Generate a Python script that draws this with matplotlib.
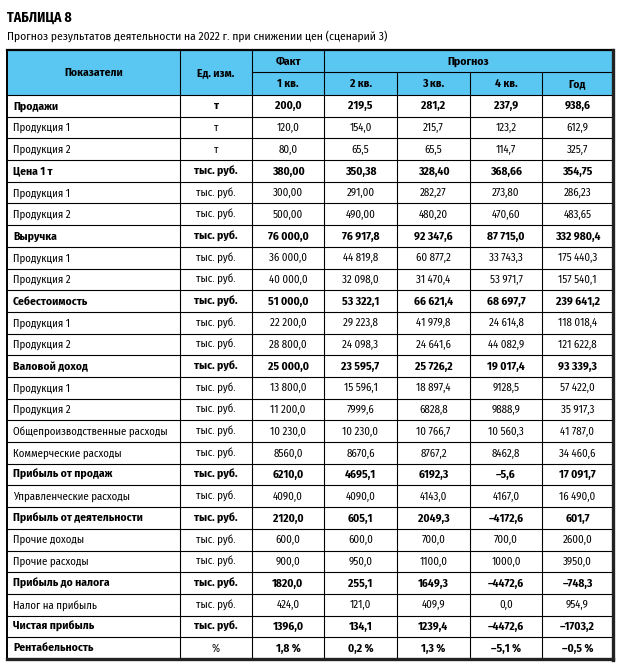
import matplotlib.pyplot as plt
from matplotlib.patches import Rectangle

plt.rcParams['font.family'] = ['Fira Sans Condensed', 'Liberation Sans Narrow', 'Liberation Sans', 'DejaVu Sans']

title = 'ТАБЛИЦА 8'
subtitle = 'Прогноз результатов деятельности на 2022 г. при снижении цен (сценарий 3)'

head_top = ['Показатели', 'Ед. изм.', 'Факт', 'Прогноз']
head_sub = ['1 кв.', '2 кв.', '3 кв.', '4 кв.', 'Год']

labels = ['Продажи', 'Продукция 1', 'Продукция 2', 'Цена 1 т', 'Продукция 1', 'Продукция 2',
          'Выручка', 'Продукция 1', 'Продукция 2', 'Себестоимость', 'Продукция 1', 'Продукция 2',
          'Валовой доход', 'Продукция 1', 'Продукция 2', 'Общепроизводственные расходы',
          'Коммерческие расходы', 'Прибыль от продаж', 'Управленческие расходы',
          'Прибыль от деятельности', 'Прочие доходы', 'Прочие расходы', 'Прибыль до налога',
          'Налог на прибыль', 'Чистая прибыль', 'Рентабельность']
units = ['т', 'т', 'т'] + ['тыс. руб.'] * 22 + ['%']
bold_rows = [0, 3, 6, 9, 12, 17, 19, 22, 24, 25]

q1 = ['200,0', '120,0', '80,0', '380,00', '300,00', '500,00', '76 000,0', '36 000,0', '40 000,0',
      '51 000,0', '22 200,0', '28 800,0', '25 000,0', '13 800,0', '11 200,0', '10 230,0', '8560,0',
      '6210,0', '4090,0', '2120,0', '600,0', '900,0', '1820,0', '424,0', '1396,0', '1,8 %']
q2 = ['219,5', '154,0', '65,5', '350,38', '291,00', '490,00', '76 917,8', '44 819,8', '32 098,0',
      '53 322,1', '29 223,8', '24 098,3', '23 595,7', '15 596,1', '7999,6', '10 230,0', '8670,6',
      '4695,1', '4090,0', '605,1', '600,0', '950,0', '255,1', '121,0', '134,1', '0,2 %']
q3 = ['281,2', '215,7', '65,5', '328,40', '282,27', '480,20', '92 347,6', '60 877,2', '31 470,4',
      '66 621,4', '41 979,8', '24 641,6', '25 726,2', '18 897,4', '6828,8', '10 766,7', '8767,2',
      '6192,3', '4143,0', '2049,3', '700,0', '1100,0', '1649,3', '409,9', '1239,4', '1,3 %']
q4 = ['237,9', '123,2', '114,7', '368,66', '273,80', '470,60', '87 715,0', '33 743,3', '53 971,7',
      '68 697,7', '24 614,8', '44 082,9', '19 017,4', '9128,5', '9888,9', '10 560,3', '8462,8',
      '–5,6', '4167,0', '–4172,6', '700,0', '1000,0', '–4472,6', '0,0', '–4472,6', '–5,1 %']
year = ['938,6', '612,9', '325,7', '354,75', '286,23', '483,65', '332 980,4', '175 440,3', '157 540,1',
        '239 641,2', '118 018,4', '121 622,8', '93 339,3', '57 422,0', '35 917,3', '41 787,0', '34 460,6',
        '17 091,7', '16 490,0', '601,7', '2600,0', '3950,0', '–748,3', '954,9', '–1703,2', '–0,5 %']

W, H = 622, 665
fig = plt.figure(figsize=(W / 100, H / 100), dpi=100)
ax = fig.add_axes([0, 0, 1, 1])
ax.set_xlim(0, W)
ax.set_ylim(H, 0)
ax.axis('off')

cols = [7, 180, 252, 324, 397, 470, 542, 613]
top, mid, hbot = 50, 72, 95
rh = (659 - hbot) / len(labels)
bottom = hbot + rh * len(labels)
blue = '#5AC7F3'
lw = 0.8
fs_b = 8.3   # bold text
fs_r = 7.8   # regular text
base = 3.6   # baseline offset below the row centre, px

ax.text(7, 18, title, fontsize=10, fontweight='bold', va='center', ha='left')
ax.text(7, 36, subtitle, fontsize=8.3, va='center', ha='left')

ax.add_patch(Rectangle((cols[0], top), cols[-1] - cols[0], hbot - top, color=blue, lw=0))

# header text
ax.text((cols[0] + cols[1]) / 2, (top + hbot) / 2 + base, head_top[0], fontsize=fs_b, fontweight='bold', ha='center', va='baseline')
ax.text((cols[1] + cols[2]) / 2, (top + hbot) / 2 + base, head_top[1], fontsize=fs_b, fontweight='bold', ha='center', va='baseline')
ax.text((cols[2] + cols[3]) / 2, (top + mid) / 2 + base, head_top[2], fontsize=fs_b, fontweight='bold', ha='center', va='baseline')
ax.text((cols[3] + cols[-1]) / 2, (top + mid) / 2 + base, head_top[3], fontsize=fs_b, fontweight='bold', ha='center', va='baseline')
for j, s in enumerate(head_sub):
    ax.text((cols[j + 2] + cols[j + 3]) / 2, (mid + hbot) / 2 + base, s, fontsize=fs_b, fontweight='bold', ha='center', va='baseline')

# body
values = [q1, q2, q3, q4, year]
for i, lab in enumerate(labels):
    yb = hbot + rh * (i + 0.5) + base
    if i in bold_rows:
        fw, fs = 'bold', fs_b
    else:
        fw, fs = 'normal', fs_r
    ax.text(cols[0] + 6, yb, lab, fontsize=fs, fontweight=fw, ha='left', va='baseline')
    if units[i] == '%':
        ax.text((cols[1] + cols[2]) / 2, yb, units[i], fontsize=fs_r, ha='center', va='baseline')
    else:
        ax.text((cols[1] + cols[2]) / 2, yb, units[i], fontsize=fs, fontweight=fw, ha='center', va='baseline')
    for j, col in enumerate(values):
        ax.text((cols[j + 2] + cols[j + 3]) / 2, yb, col[i], fontsize=fs, fontweight=fw, ha='center', va='baseline')

# grid lines
for i in range(1, len(labels)):
    y = hbot + rh * i
    ax.plot([cols[0], cols[-1]], [y, y], color='black', lw=lw)
ax.plot([cols[0], cols[-1]], [hbot, hbot], color='black', lw=lw)
ax.plot([cols[2], cols[-1]], [mid, mid], color='black', lw=lw)
for x in cols[1:4]:
    ax.plot([x, x], [top, bottom], color='black', lw=lw)
for x in cols[4:7]:
    ax.plot([x, x], [mid, bottom], color='black', lw=lw)

# outer frame, heavier on the right and bottom
ax.plot([cols[0], cols[-1]], [top, top], color='black', lw=1.6)
ax.plot([cols[0], cols[0]], [top, bottom], color='black', lw=1.4)
ax.plot([cols[-1], cols[-1]], [top - 0.5, bottom + 1], color='#222222', lw=2.4)
ax.plot([cols[0], cols[-1]], [bottom, bottom], color='#222222', lw=2.4)

fig.savefig('out.png', dpi=100)
